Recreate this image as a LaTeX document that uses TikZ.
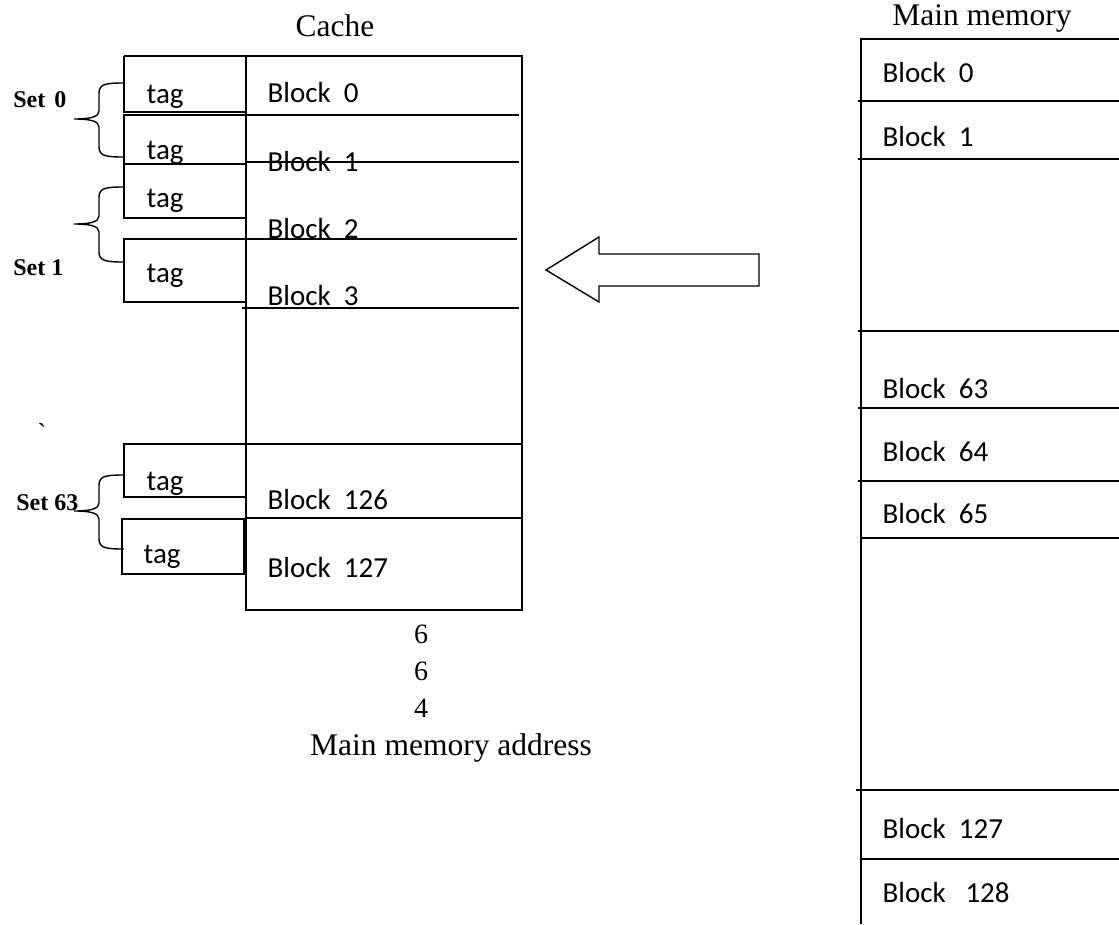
\documentclass[tikz,border=0pt]{standalone}
\usepackage{fontspec}
\setmainfont{Liberation Serif}
\newfontfamily\calib{Carlito}
\newcommand\cachebrace[4]{%
  \draw[brc] (124,#1) .. controls (106,#1) and (99,{#1+1}) .. (99,{#1+10})
    -- (99,{#2-8}) .. controls (99,{#2-2}) and (90,#2) .. (#4,#2)
    .. controls (90,#2) and (99,{#2+2}) .. (99,{#2+8})
    -- (99,{#3-10}) .. controls (99,{#3-1}) and (106,#3) .. (124,#3);}
\begin{document}
\begin{tikzpicture}[x=1pt,y=-1pt,line width=1.4pt,
  blk/.style={anchor=base west,inner sep=0pt,font=\calib\fontsize{29}{34}\selectfont},
  ttl/.style={anchor=base,inner sep=0pt,font=\fontsize{31.5}{36}\selectfont},
  num/.style={anchor=base,inner sep=0pt,font=\fontsize{28}{32}\selectfont},
  setl/.style={anchor=base east,inner sep=0pt,font=\bfseries\fontsize{24}{28}\selectfont},
  brc/.style={line width=1.4pt},
  ln/.style={line width=1.4pt}]
\useasboundingbox (0,0) rectangle (1119,924);
% ---------- Cache ----------
\node[ttl] (cachet) at (335,36) {Cache};
\draw[ln] (124,56) -- (522,56) -- (522,610) -- (246,610) -- (246,56);
% tag boxes
\draw[ln] (124,56) -- (124,112) -- (246,112);
\draw[ln] (124,115) rectangle (246,164);
\draw[ln] (124,164) -- (124,218) -- (246,218);
\draw[ln] (124,239) rectangle (246,302);
\draw[ln] (124,444) rectangle (246,497);
\draw[ln] (122,519) rectangle (244,574);
% block lines
\draw[ln] (246,115) -- (519,115);
\draw[ln] (246,162) -- (519,162);
\draw[ln] (246,239) -- (517,239);
\draw[ln] (242,308) -- (519,308);
\draw[ln] (246,444) -- (522,444);
\draw[ln] (246,518) -- (522,518);
% tag texts
\node[blk] (t0) at (146,103) {tag};
\node[blk] (t1) at (146,159) {tag};
\node[blk] (t2) at (146,207) {tag};
\node[blk] (t3) at (146,282) {tag};
\node[blk] (t126) at (146,490) {tag};
\node[blk] (t127) at (143,563) {tag};
% block texts
\node[blk] (c0) at (267,102) {Block\ \ 0};
\node[blk] (c1) at (267,171) {Block\ \ 1};
\node[blk] (c2) at (267,238) {Block\ \ 2};
\node[blk] (c3) at (267,305) {Block\ \ 3};
\node[blk] (c126) at (267,509) {Block\ \ 126};
\node[blk] (c127) at (267,577) {Block\ \ 127};
% braces and set labels
\cachebrace{83}{119}{157}{74}
\cachebrace{187}{224}{262}{74}
\cachebrace{475}{511}{549}{74}
\node[setl] (s0) at (67,107) {Set\ \kern3pt0};
\node[setl] (s1) at (64,275) {Set 1};
\node[setl] (s63) at (79,510) {Set 63};
\node[inner sep=0pt,font=\fontsize{26}{30}\selectfont] (tick) at (42,432) {\textasciigrave};
% address
\node[num] (n1) at (421,643) {6};
\node[num] (n2) at (421,680) {6};
\node[num] (n3) at (421,717) {4};
\node[ttl] (addr) at (451,755) {Main memory address};
% ---------- Arrow ----------
\draw[ln,line join=miter] (546,270) -- (599,237) -- (599,254) -- (759,254) -- (759,286) -- (599,286) -- (599,302) -- cycle;
% ---------- Main memory ----------
\node[ttl] (mmt) at (982,25) {Main memory};
\draw[ln] (1119,39) -- (861,39) -- (861,924);
\draw[ln] (858,101) -- (1119,101);
\draw[ln] (858,159) -- (1119,159);
\draw[ln] (858,331) -- (1119,331);
\draw[ln] (858,408) -- (1119,408);
\draw[ln] (858,481) -- (1119,481);
\draw[ln] (861,538) -- (1119,538);
\draw[ln] (856,790) -- (1119,790);
\draw[ln] (861,859) -- (1119,859);
\node[blk] (m0) at (882,82) {Block\ \ 0};
\node[blk] (m1) at (882,146) {Block\ \ 1};
\node[blk] (m63) at (882,398) {Block\ \ 63};
\node[blk] (m64) at (882,461) {Block\ \ 64};
\node[blk] (m65) at (882,523) {Block\ \ 65};
\node[blk] (m127) at (882,838) {Block\ \ 127};
\node[blk] (m128) at (882,902) {Block\ \ \ 128};
\end{tikzpicture}
\end{document}
